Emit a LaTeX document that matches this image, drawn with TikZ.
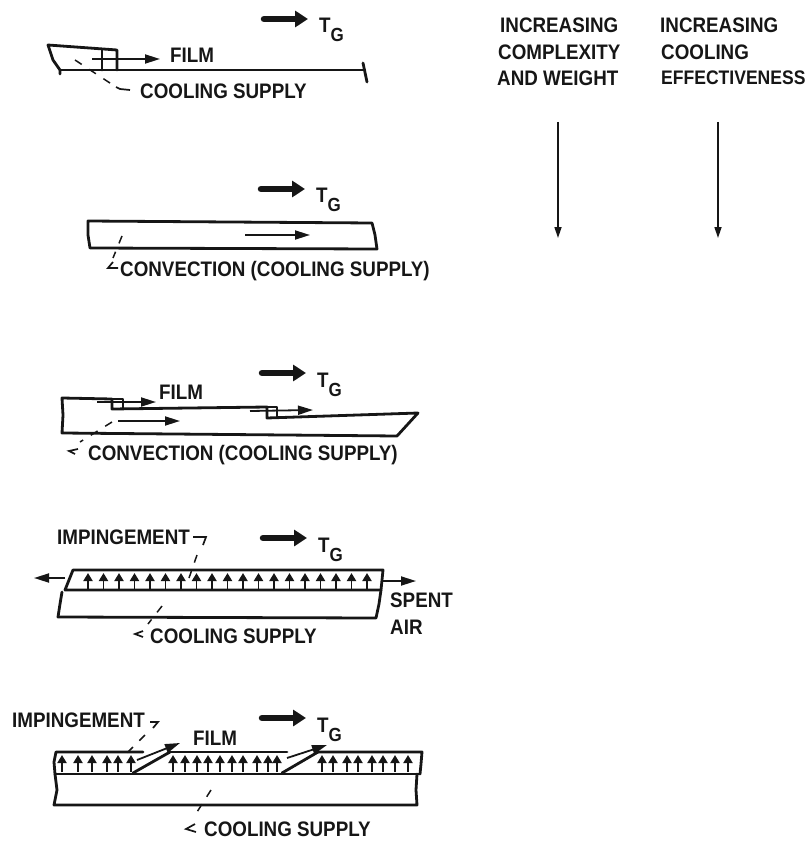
\documentclass[tikz,border=0pt]{standalone}
\usepackage{fontspec}
\setmainfont[FakeStretch=0.895]{Liberation Sans}
\usetikzlibrary{arrows.meta,calc,positioning}
\definecolor{scanblack}{RGB}{22,22,22}
\tikzset{
  label/.style={inner sep=0pt,text=scanblack,font=\fontsize{21}{21}\selectfont\bfseries},
  wall/.style={draw=scanblack,line width=2.8pt,line join=round,line cap=round},
  thinflow/.style={draw=scanblack,line width=1.8pt,-{Triangle[length=15pt,width=9pt]}},
  trendflow/.style={draw=scanblack,line width=1.6pt,-{Triangle[length=11pt,width=7pt]}},
  heavyflow/.style={draw=scanblack,line width=6.5pt,line cap=round,-{Triangle[length=13pt,width=16pt]}},
  jetflow/.style={draw=scanblack,line width=1.9pt,-{Triangle[length=8pt,width=9pt]}},
  leader/.style={draw=scanblack,line width=1.5pt,dash pattern=on 8pt off 9pt},
  tail/.style={draw=scanblack,line width=1.7pt},
}
\newcommand{\gasflow}[3]{%
  \coordinate (#1s) at (#2,#3);
  \node[label,anchor=base west] (#1) at (#2+55,#3+14) {T\raisebox{-9pt}{\fontsize{19}{19}\selectfont G}};
  \draw[heavyflow] (#1s) -- ($(#1s)+(44,0)$);
}
\newcommand{\jets}[2]{%
  \foreach \jx in {#1}{\coordinate (jb) at (\jx,#2+20);
    \coordinate (jt) at (\jx,#2+3);
    \draw[jetflow] (jb) -- (jt);}
}
\begin{document}
\begin{tikzpicture}[x=1pt,y=-1pt]
  \useasboundingbox (0,0) rectangle (810,842);
  % film
  \gasflow{gasa}{264}{19}
  \draw[wall] (60,74) -- (60,70) -- (53,60) -- (48,45) -- (117,50) -- (117,70);
  \draw[wall] (60,70) -- (363,70);
  \draw[wall] (363,63) -- (367,82);
  \draw[wall] (102,50) -- (102,70);
  \node[label,anchor=west] (filma) at (170,55) {FILM};
  \coordinate (filmas) at (92,59);
  \coordinate (filmae) at (160,59);
  \draw[thinflow] (filmas) -- (filmae);
  \node[label,anchor=west] (supplya) at (140,91) {COOLING SUPPLY};
  \coordinate (leada) at (75,60);
  \coordinate (leadb) at (116,87);
  \draw[leader] (leada) -- (leadb);
  \draw[tail] (116,87) -- (120,89) -- (130,90);
  % convection
  \gasflow{gasb}{261}{189}
  \draw[wall] (88,221) -- (372,223) -- (375,235) -- (377,249) -- (90,248) -- (88,235) -- cycle;
  \coordinate (convs) at (245,235);
  \coordinate (conve) at (310,235);
  \draw[thinflow] (convs) -- (conve);
  \node[label,anchor=west] (convb) at (120,271) {CONVECTION (COOLING SUPPLY)};
  \coordinate (leadc) at (122,236);
  \coordinate (leadd) at (113,258);
  \draw[leader] (leadc) -- (leadd);
  \draw[tail] (113,262) -- (108,268) -- (118,268);
  % film and convection
  \gasflow{gasc}{262}{373}
  \draw[wall] (112,399) -- (62,398) -- (63,415) -- (62,433) -- (397,436) -- (418,413) -- (267,418) -- (267,407) -- (112,409) -- (112,399);
  \draw[wall] (112,399) -- (123,399) -- (123,408);
  \draw[wall] (267,407) -- (277,407) -- (277,417);
  \node[label,anchor=west] (filmc) at (159,392) {FILM};
  \coordinate (filmcs) at (97,402);
  \coordinate (filmce) at (156,402);
  \draw[thinflow] (filmcs) -- (filmce);
  \coordinate (filmds) at (250,411);
  \coordinate (filmde) at (313,410);
  \draw[thinflow] (filmds) -- (filmde);
  \coordinate (convcs) at (118,421);
  \coordinate (convce) at (180,421);
  \draw[thinflow] (convcs) -- (convce);
  \node[label,anchor=west] (convc) at (88,455) {CONVECTION (COOLING SUPPLY)};
  \coordinate (leade) at (112,422);
  \coordinate (leadf) at (80,442);
  \draw[leader] (leade) -- (leadf);
  \draw[tail] (78,449) -- (69,451) -- (75,454);
  % impingement
  \gasflow{gasd}{263}{538}
  \node[label,anchor=west] (impa) at (57,537) {IMPINGEMENT};
  \draw[wall] (65,590) -- (73,570) -- (383,570) -- (381,590) -- cycle;
  \draw[wall] (62,592) -- (60,604) -- (58,617) -- (376,618) -- (379,604) -- (381,590);
  \jets{88,103.5,...,367}{570}
  \coordinate (spentl) at (65,578);
  \coordinate (spentle) at (34,578);
  \coordinate (spentr) at (383,581);
  \coordinate (spentre) at (416,581);
  \draw[thinflow] (spentl) -- (spentle);
  \draw[thinflow] (spentr) -- (spentre);
  \node[label,anchor=west] (spent) at (390,600) {SPENT};
  \node[label,anchor=west] (air) at (390,627) {AIR};
  \node[label,anchor=west] (supplyd) at (150,636) {COOLING SUPPLY};
  \coordinate (leadg) at (197,555);
  \coordinate (leadh) at (189,578);
  \draw[leader] (leadg) -- (leadh);
  \draw[tail] (193,537) -- (206,537) -- (203,545);
  \coordinate (leadi) at (162,606);
  \coordinate (leadj) at (148,624);
  \draw[leader] (leadi) -- (leadj);
  \draw[tail] (143,631) -- (135,634) -- (143,637);
  % impingement and film
  \gasflow{gase}{262}{718}
  \node[label,anchor=west] (impb) at (12,720) {IMPINGEMENT};
  \draw[wall] (55,774) -- (54,762) -- (56,752) -- (143,752);
  \draw[wall] (170,752) -- (287,752);
  \draw[wall] (318,752) -- (422,752) -- (421,764) -- (420,774);
  \draw[wall] (55,774) -- (420,774);
  \draw[wall] (55,774) -- (57,790) -- (54,805) -- (417,805) -- (416,790) -- (417,774);
  \draw[wall] (133,773) -- (170,752);
  \draw[wall] (282,773) -- (318,752);
  \jets{62,78,92,107,118,131}{752}
  \jets{173,185,197,208,220,232,243,257,268,277}{752}
  \jets{322,333,347,358,372,383,395,408}{752}
  \coordinate (slotas) at (137,760);
  \coordinate (slotae) at (180,743);
  \draw[thinflow] (slotas) -- (slotae);
  \coordinate (slotbs) at (287,758);
  \coordinate (slotbe) at (327,745);
  \draw[thinflow] (slotbs) -- (slotbe);
  \node[label,anchor=west] (filme) at (193,738) {FILM};
  \node[label,anchor=west] (supplye) at (204,829) {COOLING SUPPLY};
  \coordinate (leadk) at (145,735);
  \coordinate (leadl) at (124,756);
  \draw[leader] (leadk) -- (leadl);
  \draw[tail] (150,722) -- (158,722) -- (153,728);
  \coordinate (leadm) at (211,790);
  \coordinate (leadn) at (197,812);
  \draw[leader] (leadm) -- (leadn);
  \draw[tail] (195,824) -- (186,829) -- (196,832);
  % trends
  \node[label,anchor=west] (inca) at (500,25) {INCREASING};
  \node[label,anchor=west] (cmplx) at (498,52) {COMPLEXITY};
  \node[label,anchor=west] (wght) at (497,78) {AND WEIGHT};
  \node[label,anchor=west] (incb) at (660,25) {INCREASING};
  \node[label,anchor=west] (cool) at (661,52) {COOLING};
  \node[label,anchor=west,font=\fontsize{19.6}{21}\selectfont\bfseries] (eff) at (661,78) {EFFECTIVENESS};
  \coordinate (trendas) at (558,122);
  \coordinate (trendae) at (558,238);
  \coordinate (trendbs) at (718,122);
  \coordinate (trendbe) at (718,238);
  \draw[trendflow] (trendas) -- (trendae);
  \draw[trendflow] (trendbs) -- (trendbe);
\end{tikzpicture}
\end{document}
